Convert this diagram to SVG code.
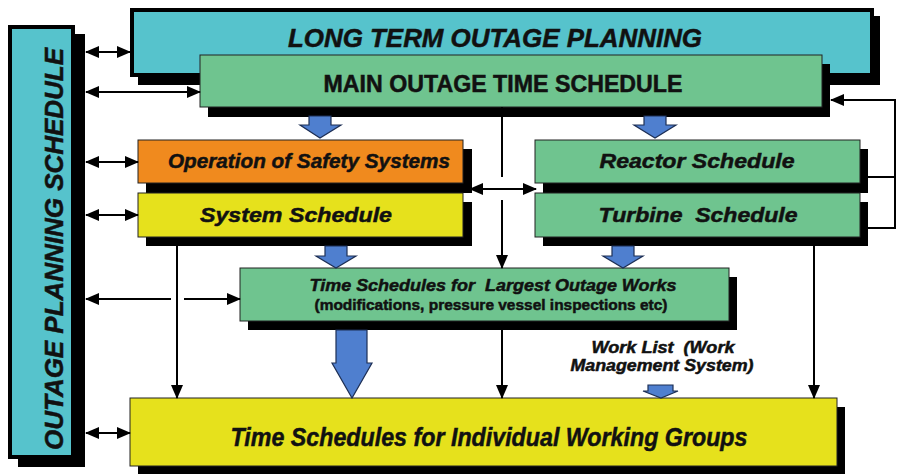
<svg xmlns="http://www.w3.org/2000/svg" width="900" height="474" viewBox="0 0 900 474">
<style>
.sh{fill:#000}
.cy{fill:#56c3cc;stroke:#000;stroke-width:4}
.gr{fill:#6fc48f;stroke:#222;stroke-width:1}
.or{fill:#f08a1e;stroke:#222;stroke-width:1}
.ye{fill:#e6e11c;stroke:#222;stroke-width:1}
.t{font-family:"Liberation Sans",Arial,sans-serif;font-weight:bold;fill:#111;stroke:#111;stroke-width:0.5;text-anchor:middle}
.i{font-style:italic}
.ln{fill:none;stroke:#000;stroke-width:2}
.blk{fill:#4f7fcf;stroke:#1d2f55;stroke-width:1.2;stroke-linejoin:miter}
</style>
<defs>
<marker id="ah" markerUnits="userSpaceOnUse" markerWidth="14" markerHeight="12" refX="13" refY="6" orient="auto-start-reverse" viewBox="0 0 14 12">
<path d="M0,0 L14,6 L0,12 Z" fill="#000"/>
</marker>
</defs>
<rect width="900" height="474" fill="#fff"/>

<g id="outage-planning-schedule">
<rect class="sh" x="18" y="34" width="67" height="433"/>
<rect class="cy" x="10" y="27" width="63" height="430"/>
<text class="t i" font-size="26" transform="translate(63,249) rotate(-90)" textLength="402" lengthAdjust="spacingAndGlyphs">OUTAGE PLANNING SCHEDULE</text>
</g>

<g id="long-term">
<rect class="sh" x="138" y="16" width="742" height="69"/>
<rect class="cy" x="132" y="10" width="740" height="65"/>
<text class="t i" x="495" y="47" font-size="26" textLength="414" lengthAdjust="spacingAndGlyphs">LONG TERM OUTAGE PLANNING</text>
</g>

<g id="main-schedule">
<rect class="sh" x="208" y="64" width="622" height="53"/>
<rect class="gr" x="200" y="55" width="622" height="52"/>
<text class="t" x="503" y="92" font-size="23" textLength="359" lengthAdjust="spacingAndGlyphs">MAIN OUTAGE TIME SCHEDULE</text>
</g>

<g id="safety-systems">
<rect class="sh" x="146" y="149" width="326" height="44"/>
<rect class="or" x="138" y="140" width="325" height="43"/>
<text class="t i" x="309" y="168" font-size="21" textLength="282" lengthAdjust="spacingAndGlyphs">Operation of Safety Systems</text>
</g>

<g id="system-schedule">
<rect class="sh" x="146" y="202" width="326" height="44"/>
<rect class="ye" x="138" y="193" width="325" height="44"/>
<text class="t i" x="296" y="222" font-size="21" textLength="192" lengthAdjust="spacingAndGlyphs">System Schedule</text>
</g>

<g id="reactor-schedule">
<rect class="sh" x="543" y="149" width="325" height="44"/>
<rect class="gr" x="535" y="140" width="325" height="43"/>
<text class="t i" x="697" y="168" font-size="21" textLength="195" lengthAdjust="spacingAndGlyphs">Reactor Schedule</text>
</g>

<g id="turbine-schedule">
<rect class="sh" x="543" y="202" width="325" height="44"/>
<rect class="gr" x="535" y="193" width="325" height="44"/>
<text class="t i" x="698" y="222" font-size="21" textLength="199" lengthAdjust="spacingAndGlyphs" xml:space="preserve">Turbine  Schedule</text>
</g>

<g id="largest-works">
<rect class="sh" x="248" y="277" width="489" height="53"/>
<rect class="gr" x="240" y="268" width="489" height="53"/>
<text class="t i" x="493" y="291" font-size="17" textLength="367" lengthAdjust="spacingAndGlyphs" xml:space="preserve">Time Schedules for  Largest Outage Works</text>
<text class="t" x="491" y="310" font-size="15" textLength="353" lengthAdjust="spacingAndGlyphs">(modifications, pressure vessel inspections etc)</text>
</g>

<g id="work-list">
<text class="t i" x="663" y="353" font-size="16" textLength="143" lengthAdjust="spacingAndGlyphs" xml:space="preserve">Work List  (Work</text>
<text class="t i" x="662" y="371" font-size="16" textLength="183" lengthAdjust="spacingAndGlyphs">Management System)</text>
</g>

<g id="working-groups">
<rect class="sh" x="138" y="407" width="707" height="67"/>
<rect class="ye" x="130" y="398" width="707" height="68"/>
<text class="t i" x="489" y="446" font-size="26" textLength="517" lengthAdjust="spacingAndGlyphs">Time Schedules for Individual Working Groups</text>
</g>

<g id="connectors">
<path class="ln" d="M86,52 H130" marker-start="url(#ah)" marker-end="url(#ah)"/>
<path class="ln" d="M86,92 H200" marker-start="url(#ah)" marker-end="url(#ah)"/>
<path class="ln" d="M86,162 H138" marker-start="url(#ah)" marker-end="url(#ah)"/>
<path class="ln" d="M86,215 H138" marker-start="url(#ah)" marker-end="url(#ah)"/>
<path class="ln" d="M86,299 H171 M184,299 H240" marker-start="url(#ah)" marker-end="url(#ah)"/>
<path class="ln" d="M86,433 H130" marker-start="url(#ah)" marker-end="url(#ah)"/>
<path class="ln" d="M177,246 V398" marker-end="url(#ah)"/>
<path class="ln" d="M502,107 V177 M502,200 V268" marker-end="url(#ah)"/>
<path class="ln" d="M470,189 H536" marker-start="url(#ah)" marker-end="url(#ah)"/>
<path class="ln" d="M502,330 V398" marker-end="url(#ah)"/>
<path class="ln" d="M814,246 V398" marker-end="url(#ah)"/>
<path class="ln" d="M868,177 H895 M868,228 H895 V100 H831" marker-end="url(#ah)"/>
<polygon class="blk" points="309,116 331,116 331,125 341,125 320,138 300,125 309,125"/>
<polygon class="blk" points="644,116 666,116 666,125 676,125 655,138 634,125 644,125"/>
<polygon class="blk" points="325,246 347,246 347,256 356,256 336,268 316,256 325,256"/>
<polygon class="blk" points="612,246 634,246 634,256 643,256 623,268 603,256 612,256"/>
<polygon class="blk" points="336,330 367,330 367,363 372,363 352,398 332,363 336,363"/>
<polygon class="blk" points="648,385 673,385 673,391 678,391 661,398 643,391 648,391"/>
</g>
</svg>
